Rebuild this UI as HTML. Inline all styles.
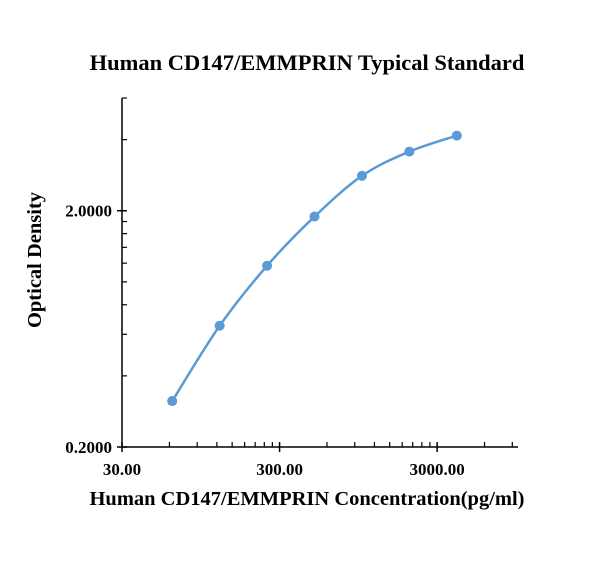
<!DOCTYPE html>
<html><head><meta charset="utf-8"><style>
body{margin:0;background:#fff;width:610px;height:558px;overflow:hidden}
svg text{font-family:"Liberation Serif",serif;font-weight:bold;fill:#000}
</style></head><body>
<svg id="chart" width="610" height="558">
<text x="307" y="70" font-size="22.5" text-anchor="middle">Human CD147/EMMPRIN Typical Standard</text>
<text x="307" y="505" font-size="20.5" text-anchor="middle">Human CD147/EMMPRIN Concentration(pg/ml)</text>
<text transform="translate(41,260) rotate(-90)" font-size="20.5" text-anchor="middle">Optical Density</text>
<g id="axes"></g><g id="series"></g>
</svg>
<script>
const concentrations=[62.5,125,250,500,1000,2000,4000];
const odValues=[0.313,0.652,1.17,1.89,2.81,3.56,4.16];
const xTickLabels=["30.00","300.00","3000.00"];
const xTickValues=[30,300,3000];
const yTickLabels=["0.2000","2.0000"];
const yTickValues=[0.2,2.0];
const xMin=30,xMax=9780,yMin=0.2,yMax=6.0;
const X0=122,X1=518,Y0=447,Y1=98;
const L=Math.log10;
function sx(v){return X0+(L(v)-L(xMin))/(L(xMax)-L(xMin))*(X1-X0);}
function sy(v){return Y0-(L(v)-L(yMin))/(L(yMax)-L(yMin))*(Y0-Y1);}
const NS="http://www.w3.org/2000/svg";
const ax=document.getElementById('axes'),se=document.getElementById('series');
function mk(p,tag,at){const e=document.createElementNS(NS,tag);for(const k in at)e.setAttribute(k,at[k]);p.appendChild(e);return e;}
let e;
e=mk(ax,'line',{x1:X0,y1:Y0,x2:X1,y2:Y0,stroke:'#000','stroke-width':1.5});


e=mk(ax,'line',{x1:X0,y1:Y0,x2:X0,y2:Y1,stroke:'#000','stroke-width':1.5});


for(let d=30;d<xMax;d*=10){for(let k=2;k<=9;k++){const v=d*k;if(v>xMax*1.001)break;
e=mk(ax,'line',{x1:sx(v),y1:Y0,x2:sx(v),y2:Y0-5,stroke:'#000','stroke-width':1.2});

}}
xTickValues.forEach((v,i)=>{
e=mk(ax,'line',{x1:sx(v),y1:Y0-5,x2:sx(v),y2:Y0+5,stroke:'#000','stroke-width':1.5});


e=mk(ax,'text',{x:sx(v),y:Y0+28,'font-size':17,'text-anchor':'middle'});e.textContent=xTickLabels[i];

});
for(let d=0.2;d<yMax;d*=10){for(let k=2;k<=9;k++){const v=d*k;if(v>yMax*1.001)break;
e=mk(ax,'line',{x1:X0,y1:sy(v),x2:X0+5,y2:sy(v),stroke:'#000','stroke-width':1.2});

}}
yTickValues.forEach((v,i)=>{
e=mk(ax,'line',{x1:X0-5,y1:sy(v),x2:X0+5,y2:sy(v),stroke:'#000','stroke-width':1.5});


e=mk(ax,'text',{x:X0-10,y:sy(v)+6,'font-size':17,'text-anchor':'end'});e.textContent=yTickLabels[i];

});
const P=concentrations.map((c,i)=>[sx(c),sy(odValues[i])]);
let d='M'+P[0][0]+','+P[0][1];
for(let i=0;i<P.length-1;i++){const p0=P[Math.max(0,i-1)],p1=P[i],p2=P[i+1],p3=P[Math.min(P.length-1,i+2)];
d+=' C'+(p1[0]+(p2[0]-p0[0])/6)+','+(p1[1]+(p2[1]-p0[1])/6)+' '+(p2[0]-(p3[0]-p1[0])/6)+','+(p2[1]-(p3[1]-p1[1])/6)+' '+p2[0]+','+p2[1];}
e=mk(se,'path',{d:d,fill:'none',stroke:'#5b9bd5','stroke-width':2.5});


P.forEach(p=>{e=mk(se,'circle',{cx:p[0],cy:p[1],r:5,fill:'#5b9bd5'});

});
</script>
</body></html>
